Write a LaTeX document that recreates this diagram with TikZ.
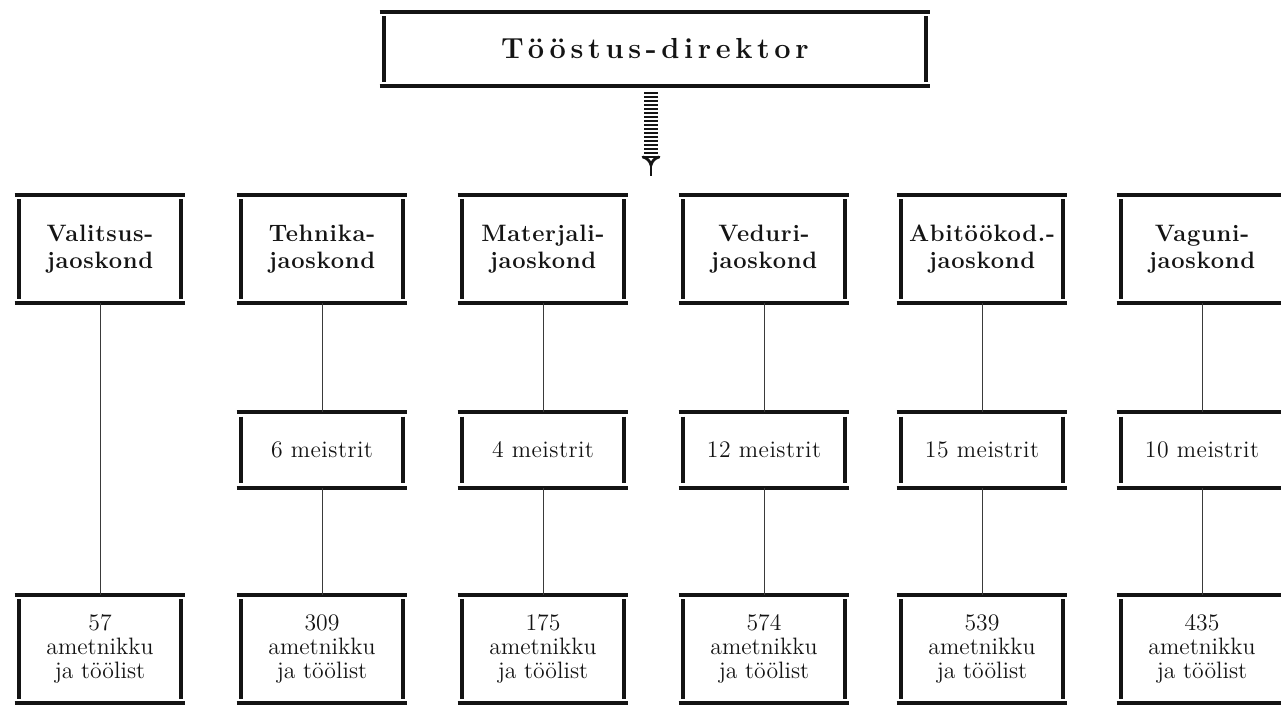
\documentclass[tikz,border=0pt]{standalone}
\usepackage{fontspec}
\setmainfont{Latin Modern Roman}
\usepackage{xcolor}
\usepackage{tikz}
\usetikzlibrary{arrows.meta, positioning}
\definecolor{orgInk}{HTML}{141414}
\definecolor{orgLine}{HTML}{3A3A3A}

\begin{document}
\begin{tikzpicture}[
  x=0.02cm, y=-0.02cm,
  box/.style={
    minimum width=3.4cm,
    inner sep=0pt,
    align=center,
    text=orgInk
  },
  dirbox/.style={box, minimum width=11cm, minimum height=1.48cm,
    font=\fontsize{16.5}{18}\selectfont\bfseries\addfontfeature{LetterSpace=16}},
  deptbox/.style={box, minimum height=2.16cm,
    font=\fontsize{13.5}{15.3}\selectfont\bfseries\addfontfeature{LetterSpace=3}},
  masterbox/.style={box, minimum height=1.5cm,
    font=\fontsize{13.5}{14}\selectfont\addfontfeature{LetterSpace=2}},
  staffbox/.style={box, minimum height=2.16cm,
    font=\fontsize{13.5}{13.6}\selectfont},
  rule/.style={draw=orgInk, line width=2.3pt},
  side/.style={draw=orgInk, line width=2.2pt},
  link/.style={draw=orgLine, line width=0.5pt},
  stripe/.style={draw=orgInk, line width=1.1pt}
]
\fill[white] (0,0) rectangle (1281,705);
\useasboundingbox (0,0) rectangle (1281,705);

% director
\node[dirbox] (dir) at (655,49) {Tööstus-direktor};

% departments
\node[deptbox] (valitsus) at (100,249) {Valitsus-\\jaoskond};
\node[deptbox] (tehnika) at (322,249) {Tehnika-\\jaoskond};
\node[deptbox] (materjali) at (543,249) {Materjali-\\jaoskond};
\node[deptbox] (veduri) at (764,249) {Veduri-\\jaoskond};
\node[deptbox] (abitoo) at (982,249) {Abitöökod.-\\jaoskond};
\node[deptbox] (vaguni) at (1202,249) {Vaguni-\\jaoskond};

% masters
\node[masterbox] (tehnikaM) at (322,450) {6 meistrit};
\node[masterbox] (materjaliM) at (543,450) {4 meistrit};
\node[masterbox] (veduriM) at (764,450) {12 meistrit};
\node[masterbox] (abitooM) at (982,450) {15 meistrit};
\node[masterbox] (vaguniM) at (1202,450) {10 meistrit};

% staff
\node[staffbox] (valitsusS) at (100,649) {57\\ametnikku\\ja töölist};
\node[staffbox] (tehnikaS) at (322,649) {309\\ametnikku\\ja töölist};
\node[staffbox] (materjaliS) at (543,649) {175\\ametnikku\\ja töölist};
\node[staffbox] (veduriS) at (764,649) {574\\ametnikku\\ja töölist};
\node[staffbox] (abitooS) at (982,649) {539\\ametnikku\\ja töölist};
\node[staffbox] (vaguniS) at (1202,649) {435\\ametnikku\\ja töölist};

% box rules
\foreach \b in {dir,valitsus,tehnika,materjali,veduri,abitoo,vaguni,
  tehnikaM,materjaliM,veduriM,abitooM,vaguniM,
  valitsusS,tehnikaS,materjaliS,veduriS,abitooS,vaguniS}{
  \draw[rule] (\b.north west) -- (\b.north east);
  \draw[rule] (\b.south west) -- (\b.south east);
  \draw[side] ([xshift=2.4pt,yshift=-2.6pt]\b.north west) -- ([xshift=2.4pt,yshift=2.6pt]\b.south west);
  \draw[side] ([xshift=-2.4pt,yshift=-2.6pt]\b.north east) -- ([xshift=-2.4pt,yshift=2.6pt]\b.south east);
}

% striped arrow
\coordinate (arrowTip) at (651,176);
\foreach \k in {0,...,16}{
  \draw[stripe] (644,93+\k*4) -- (658,93+\k*4);
}
\draw[draw=orgInk, line width=1.4pt] (651,164) -- (arrowTip);
\draw[draw=orgInk, line width=1.6pt, line cap=round]
  (643,157) .. controls (647,158) and (650,161) .. (651,165)
  .. controls (652,161) and (655,158) .. (659,157);

% links
\draw[link] (valitsus.south) -- (valitsusS.north);
\draw[link] (tehnika.south) -- (tehnikaM.north);
\draw[link] (tehnikaM.south) -- (tehnikaS.north);
\draw[link] (materjali.south) -- (materjaliM.north);
\draw[link] (materjaliM.south) -- (materjaliS.north);
\draw[link] (veduri.south) -- (veduriM.north);
\draw[link] (veduriM.south) -- (veduriS.north);
\draw[link] (abitoo.south) -- (abitooM.north);
\draw[link] (abitooM.south) -- (abitooS.north);
\draw[link] (vaguni.south) -- (vaguniM.north);
\draw[link] (vaguniM.south) -- (vaguniS.north);
\end{tikzpicture}
\end{document}
